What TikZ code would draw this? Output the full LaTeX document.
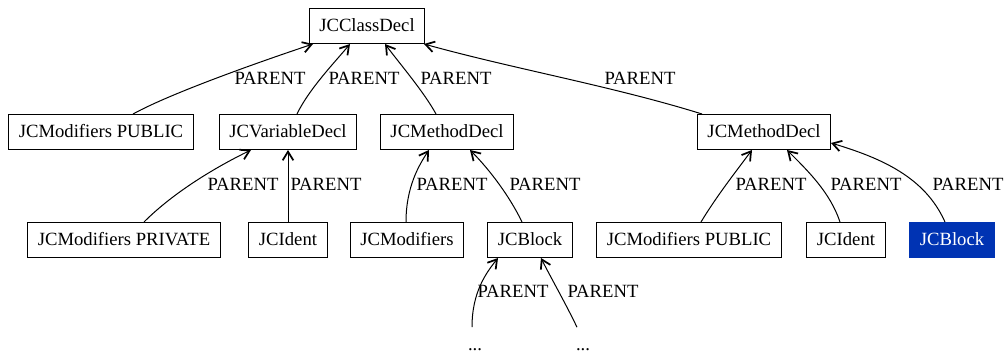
\documentclass[tikz,border=0pt]{standalone}
\usepackage{fontspec}
\setmainfont{Liberation Serif}
\usetikzlibrary{arrows.meta,calc}
\definecolor{blockblue}{RGB}{0,51,179}
\begin{document}
\begin{tikzpicture}[x=0.75pt,y=-0.75pt,
  every node/.style={font=\fontsize{14}{16}\selectfont, text height=10pt, text depth=1pt},
  astnode/.style={draw, line width=0.75pt, inner xsep=7.5pt, inner ysep=0pt, minimum height=26.25pt},
  hilite/.style={astnode, fill=blockblue, draw=blockblue, text=white},
  more/.style={inner sep=0pt, minimum height=26.25pt},
  lbl/.style={inner sep=0pt},
  parent/.style={line width=0.75pt, -{Straight Barb[length=6.5pt,width=8pt,line width=1.3pt]}}
]
\useasboundingbox (0,0) rectangle (1008,356);

% tree nodes
\node[astnode] (cd)    at (367,26)  {JCClassDecl};
\node[astnode] (mp)    at (101,132) {JCModifiers PUBLIC};
\node[astnode] (vd)    at (288,132) {JCVariableDecl};
\node[astnode] (mdL)   at (447,132) {JCMethodDecl};
\node[astnode] (mdR)   at (764,132) {JCMethodDecl};
\node[astnode] (mpriv) at (124,240) {JCModifiers PRIVATE};
\node[astnode] (jiL)   at (288,240) {JCIdent};
\node[astnode] (jm)    at (407,240) {JCModifiers};
\node[astnode] (jbL)   at (530,240) {JCBlock};
\node[astnode] (mpubR) at (689,240) {JCModifiers PUBLIC};
\node[astnode] (jiR)   at (846,240) {JCIdent};
\node[hilite]  (jbR)   at (952,240) {JCBlock};
\node[more]    (dL)    at (475,345) {...};
\node[more]    (dR)    at (583,345) {...};

% parent links
\draw[parent] ($(mp.north)+(32,0)$) .. controls +(40,-22) and +(-45,15) .. ($(cd.south)+(-54,0)$);
\draw[parent] ($(vd.north)+(9,0)$) .. controls +(12,-25) and +(-15,18) .. ($(cd.south)+(-17,0)$);
\draw[parent] ($(mdL.north)+(-11,0)$) .. controls +(-12,-22) and +(15,20) .. ($(cd.south)+(18,0)$);
\draw[parent] ($(mdR.north)+(-62,0)$) .. controls +(-90,-28) and +(90,25) .. ($(cd.south)+(57,0)$);

\draw[parent] ($(mpriv.north)+(20,0)$) .. controls +(30,-30) and +(-35,17) .. ($(vd.south)+(-37,0)$);
\draw[parent] (jiL.north) -- (vd.south);
\draw[parent] ($(jm.north)+(-1,0)$) .. controls +(0,-35) and +(-10,15) .. ($(mdL.south)+(-18,0)$);
\draw[parent] ($(jbL.north)+(-8,0)$) .. controls +(-12,-25) and +(20,20) .. ($(mdL.south)+(23,0)$);
\draw[parent] ($(mpubR.north)+(12,0)$) .. controls +(15,-25) and +(-15,20) .. ($(mdR.south)+(-12,0)$);
\draw[parent] ($(jiR.north)+(-6,0)$) .. controls +(-10,-30) and +(20,20) .. ($(mdR.south)+(23,0)$);
\draw[parent] ($(jbR.north)+(-7,0)$) .. controls +(-20,-45) and +(50,15) .. ($(mdR.east)+(0,11)$);

\draw[parent] ($(dL.north)+(-3,0)$) .. controls +(0,-35) and +(-12,15) .. ($(jbL.south)+(-32,0)$);
\draw[parent] ($(dR.north)+(-6,0)$) .. controls +(-12,-25) and +(10,20) .. ($(jbL.south)+(11,0)$);

% link labels
\node[lbl] (l1)  at (270,79)  {PARENT};
\node[lbl] (l2)  at (364,79)  {PARENT};
\node[lbl] (l3)  at (456,79)  {PARENT};
\node[lbl] (l4)  at (640,79)  {PARENT};
\node[lbl] (l5)  at (243,185) {PARENT};
\node[lbl] (l6)  at (326,185) {PARENT};
\node[lbl] (l7)  at (452,185) {PARENT};
\node[lbl] (l8)  at (545,185) {PARENT};
\node[lbl] (l9)  at (771,185) {PARENT};
\node[lbl] (l10) at (866,185) {PARENT};
\node[lbl] (l11) at (968,185) {PARENT};
\node[lbl] (l12) at (513,292) {PARENT};
\node[lbl] (l13) at (603,292) {PARENT};
\end{tikzpicture}
\end{document}
